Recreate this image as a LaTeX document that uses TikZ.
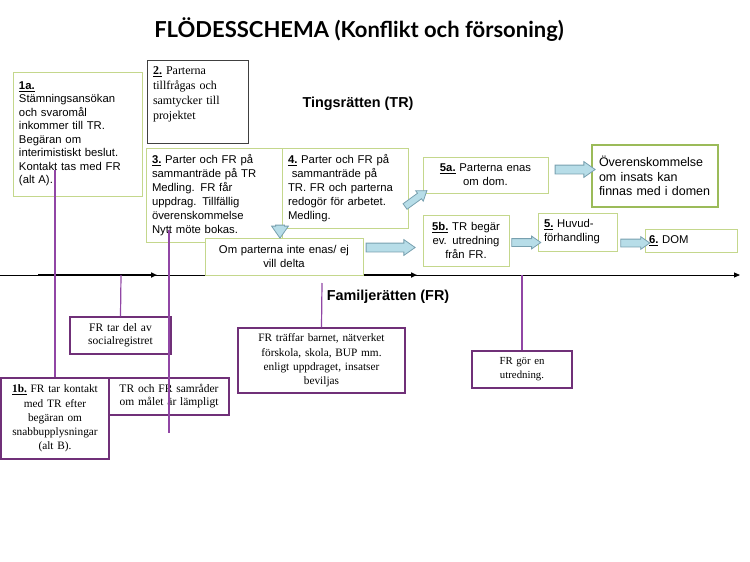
\documentclass[tikz,border=0pt]{standalone}
\usepackage{fontspec}
\setmainfont{Liberation Sans}
\newfontfamily\timesfont{Liberation Serif}
\newfontfamily\titlefont{Lato}
\usetikzlibrary{shapes.arrows,arrows.meta}
\definecolor{boxgreen}{RGB}{196,215,140}
\definecolor{deepgreen}{RGB}{155,187,89}
\definecolor{frpurple}{RGB}{112,48,120}
\definecolor{linepurple}{RGB}{145,70,165}
\definecolor{arrowfill}{RGB}{183,221,232}
\definecolor{arrowline}{RGB}{120,160,175}
\newcommand{\stepno}[1]{\underline{\textbf{#1}}}

\begin{document}
\begin{tikzpicture}[x=1pt,y=-1pt,
	trbox/.style={draw=boxgreen,line width=0.9pt,fill=white,inner xsep=6pt,inner ysep=3pt,font=\fontsize{11.3}{14}\selectfont},
	frbox/.style={draw=frpurple,line width=1.3pt,fill=white,inner xsep=3pt,inner ysep=3pt,align=center,font=\timesfont\fontsize{11.3}{14.2}\selectfont},
	blockarrow/.style={single arrow,draw=arrowline,fill=arrowfill,line width=0.8pt,inner xsep=0pt,single arrow tip angle=70},
	link/.style={linepurple,line width=1.2pt},
	axistip/.style={-{Triangle[length=6pt,width=5pt]}}]
\useasboundingbox (0,0) rectangle (750,562);
					% Titles
					\node[font=\titlefont\bfseries\fontsize{22}{26}\selectfont] (title) at (359,30) {FLÖDESSCHEMA (Konflikt och försoning)};
					\node[font=\bfseries\fontsize{14.4}{16}\selectfont] (tr) at (358,104) {Tingsrätten (TR)};
					\node[font=\bfseries\fontsize{14.4}{16}\selectfont] (fr) at (388,297) {Familjerätten (FR)};
					% Time axis
					\coordinate (axisL) at (0,275);
					\coordinate (axisR) at (740,275);
					\draw[axistip,line width=0.8pt] (axisL) -- (axisR);
					\draw[axistip,line width=2pt] (38,275) -- (157,275);
					\draw[axistip,line width=2pt] (363,275) -- (417,275);
					% Steps in TR
					\node[trbox,font=\fontsize{11.3}{13.5}\selectfont,minimum width=129pt,minimum height=124pt,text width=117pt,align=left] (s1a) at (77.5,134) {\stepno{1a.}\\ Stämningsansökan\\ och svaromål\\ inkommer till TR.\\ Begäran om\\ interimistiskt beslut.\\ Kontakt tas med FR\\ (alt A).};
					\node[draw=black!75,line width=1pt,fill=white,inner xsep=6pt,inner ysep=3pt,minimum width=101pt,minimum height=83pt,text width=89pt,align=left,font=\timesfont\fontsize{12}{15}\selectfont] (s2) at (197.5,101.5) {\stepno{2.} Parterna\\ tillfrågas och\\ samtycker till\\ projektet\\[2pt]~};
					\node[trbox,minimum width=136pt,minimum height=94pt,text width=124pt,align=left] (s3) at (214,195) {\stepno{3.} Parter och FR på\\ sammanträde på TR\\ Medling. FR får\\ uppdrag. Tillfällig\\ överenskommelse\\ Nytt möte bokas.};
					\node[trbox,minimum width=126pt,minimum height=80pt,text width=114pt,align=left] (s4) at (345,188) {\stepno{4.} Parter och FR på\\ \ sammanträde på\\ TR. FR och parterna\\ redogör för arbetet.\\ Medling.};
					\node[trbox,minimum width=158pt,minimum height=37pt,text width=146pt,align=center] (nej) at (284,256.5) {Om parterna inte enas/ ej\\ vill delta};
					\node[trbox,minimum width=125pt,minimum height=36pt,text width=113pt,align=center] (s5a) at (485.5,175) {\stepno{5a.} Parterna enas\\ om dom.};
					\node[trbox,draw=deepgreen,line width=2pt,font=\fontsize{12.5}{14.7}\selectfont,minimum width=126pt,minimum height=62pt,text width=112pt,align=left] (dom) at (655,176) {Överenskommelse\\ om insats kan\\ finnas med i domen};
					\node[trbox,minimum width=86pt,minimum height=51pt,text width=76pt,inner xsep=5pt,align=center] (s5b) at (466,240.5) {\stepno{5b.} TR begär\\ ev. utredning\\ från FR.};
					\node[trbox,minimum width=79pt,minimum height=38pt,text width=67pt,align=left] (s5) at (577.5,232) {\stepno{5.} Huvud-\\ förhandling};
					\node[trbox,minimum width=92pt,minimum height=23pt,text width=84pt,inner xsep=4pt,align=left] (s6) at (691,240.5) {\stepno{6.} DOM};
					% Block arrows (length, half shaft, head extend, angle)
					\foreach \name/\x/\y/\len/\shaft/\head/\ang in {aNej/387.5/247.5/49/4/3.5/0, aDom/572/169.5/40/4/3.5/0, aHuv/523.5/242.5/29/3.5/2.5/0, aSex/632.5/243/29/3.5/2.5/0, aUpp/414/200/27/3/3/36, aNer/280/228.5/13/4/4/-90}
						\node[blockarrow,minimum height=\len,inner ysep=\shaft,single arrow head extend=\head,rotate=\ang] (\name) at (\x,\y) {};
					% Steps in FR
					\node[frbox,font=\timesfont\fontsize{11.5}{13}\selectfont,minimum width=101pt,minimum height=37pt,text width=95pt] (socreg) at (120.5,335.5) {FR tar del av\\ socialregistret};
					\node[frbox,minimum width=108pt,minimum height=81pt,text width=102pt] (s1b) at (55,418.5) {\stepno{1b.} FR tar kontakt\\ med TR efter\\ begäran om\\ snabbupplysningar\\ (alt B).};
					\node[frbox,font=\timesfont\fontsize{11.5}{13}\selectfont,minimum width=120pt,minimum height=37pt,text width=114pt] (samrad) at (169,396.5) {TR och FR samråder\\ om målet är lämpligt};
					\node[frbox,minimum width=167pt,minimum height=65pt,text width=161pt] (traffar) at (321.5,360.5) {FR träffar barnet, nätverket\\ förskola, skola, BUP mm.\\ enligt uppdraget, insatser\\ beviljas};
					\node[frbox,font=\timesfont\fontsize{10.8}{14}\selectfont,minimum width=100pt,minimum height=37pt,text width=94pt] (utred) at (522,369.5) {FR gör en\\ utredning.};
					% Links between TR and FR
					\coordinate (k1) at (55,170);
					\coordinate (k2) at (121,275);
					\coordinate (k3) at (169,230);
					\coordinate (k3e) at (169,433);
					\coordinate (k4) at (322,283);
					\coordinate (k5) at (522,275);
					\draw[link] (k1) -- (s1b.north);
					\draw[link] (k2) -- (socreg.north);
					\draw[link] (k3) -- (k3e);
					\draw[link] (k4) -- (traffar.north);
					\draw[link] (k5) -- (utred.north);
\end{tikzpicture}
\end{document}
